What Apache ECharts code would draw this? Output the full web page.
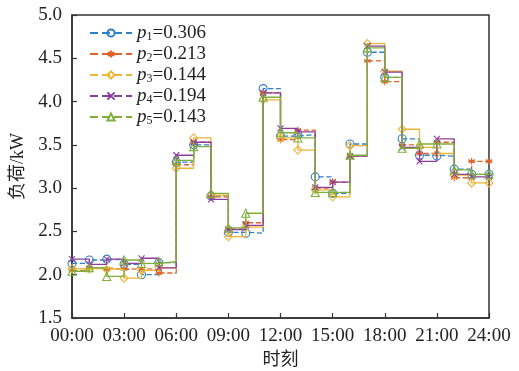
<!DOCTYPE html>
<html>
<head>
<meta charset="utf-8">
<script src="https://cdn.jsdelivr.net/npm/echarts@6/dist/echarts.min.js"></script>
<style>html,body{margin:0;padding:0;background:#fff;}#c{width:519px;height:371px;}</style>
</head>
<body>
<div id="c"></div>
<script>
var hours = [0,1,2,3,4,5,6,7,8,9,10,11,12,13,14,15,16,17,18,19,20,21,22,23,24];
var xTickLabels = ['00:00','03:00','06:00','09:00','12:00','15:00','18:00','21:00','24:00'];
var seriesNames = ['1','2','3','4','5'];
var seriesP = ['0.306','0.213','0.144','0.194','0.143'];
var p1 = [2.13,2.17,2.18,2.12,2.00,2.14,3.30,3.50,2.91,2.49,2.48,4.15,3.60,3.62,3.13,2.94,3.51,4.57,4.28,3.57,3.38,3.37,3.22,3.16,3.16];
var p2 = [2.05,2.08,2.06,2.07,2.06,2.02,3.27,3.53,2.90,2.53,2.60,4.10,3.56,3.67,3.00,3.07,3.37,4.47,4.23,3.50,3.40,3.53,3.12,3.31,3.31];
var p3 = [2.07,2.07,2.06,1.96,2.05,2.08,3.23,3.58,2.92,2.44,2.55,4.02,3.58,3.44,2.98,2.90,3.49,4.67,4.35,3.68,3.47,3.40,3.15,3.06,3.06];
var p4 = [2.18,2.12,2.18,2.13,2.19,2.08,3.38,3.53,2.87,2.52,2.57,4.10,3.69,3.65,3.01,3.07,3.37,4.64,4.34,3.47,3.31,3.57,3.16,3.13,3.13];
var p5 = [2.04,2.08,1.98,2.17,2.13,2.15,3.32,3.48,2.94,2.54,2.71,4.05,3.64,3.58,2.95,2.95,3.38,4.62,4.28,3.46,3.51,3.51,3.21,3.16,3.16];
var allValues = [p1,p2,p3,p4,p5];
var colors = ['#2f80c8','#e0622a','#eeb436','#8a3f9a','#7fb03c'];
var symbols = ['circle','path://M5,0L5,10M0.67,2.5L9.33,7.5M0.67,7.5L9.33,2.5M0,5L10,5','diamond','path://M0,0L10,10M10,0L0,10','triangle'];
var symSizes = [8,7,8,6,8];
var lineTypes = ['dashed','dashed','solid','solid','solid'];

var serif = '"Liberation Serif","Times New Roman","Noto Sans CJK SC",serif';
var chart = echarts.init(document.getElementById('c'), null, {renderer:'canvas'});
var series = allValues.map(function(vals, i){
  return {
    name: 'p' + seriesNames[i],
    type: 'line',
    step: 'end',
    data: hours.map(function(h, k){ return [h, vals[k]]; }),
    symbol: symbols[i],
    symbolSize: symSizes[i],
    showAllSymbol: true,
    lineStyle: {color: colors[i], width: 1.3, type: lineTypes[i]},
    itemStyle: {color: 'rgba(255,255,255,0)', borderColor: colors[i], borderWidth: 1.1},
    emphasis: {disabled: true},
    animation: false,
    z: 2 + i
  };
});
var legendMap = {};
seriesNames.forEach(function(n,i){ legendMap['p'+n] = i; });
chart.setOption({
  backgroundColor: '#fff',
  animation: false,
  grid: {left: 72, right: 30, top: 15, bottom: 53, show: true, borderColor: '#333', borderWidth: 1.5, backgroundColor: 'transparent', containLabel: false, outerBoundsMode: 'none'},
  legend: {
    orient: 'vertical', left: 84, top: 17, itemGap: 0, itemWidth: 42, itemHeight: 9,
    data: seriesNames.map(function(n){ return 'p'+n; }),
    lineStyle: {type: 'dashed'},
    formatter: function(name){
      var i = legendMap[name];
      return '{i|p}{s|' + seriesNames[i] + '}{t|=' + seriesP[i] + '}';
    },
    textStyle: {
      rich: {
        i: {fontFamily: serif, fontStyle: 'italic', fontSize: 19, color: '#222', lineHeight: 20},
        s: {fontFamily: serif, fontSize: 12, color: '#222', verticalAlign: 'bottom', padding: [9,0,0,0], lineHeight: 20},
        t: {fontFamily: serif, fontSize: 19, color: '#222', lineHeight: 20}
      }
    }
  },
  xAxis: {
    type: 'value', min: 0, max: 24, interval: 3,
    name: '时刻', nameLocation: 'middle', nameGap: 32,
    nameTextStyle: {fontFamily: serif, fontSize: 18, color: '#222'},
    axisLine: {show: true, onZero: false, lineStyle: {color: '#333', width: 1.5}},
    axisTick: {show: true, inside: true, length: 5, lineStyle: {color: '#333', width: 1.2}},
    axisLabel: {fontFamily: serif, fontSize: 19, color: '#222', margin: 9,
      formatter: function(v){ return xTickLabels[Math.round(v/3)]; }},
    splitLine: {show: false}
  },
  yAxis: {
    type: 'value', min: 1.5, max: 5.0, interval: 0.5,
    name: '负荷/kW', nameLocation: 'middle', nameGap: 44, nameRotate: 90,
    nameTextStyle: {fontFamily: serif, fontSize: 18, color: '#222'},
    axisLine: {show: true, lineStyle: {color: '#333', width: 1.5}},
    axisTick: {show: true, inside: true, length: 5, lineStyle: {color: '#333', width: 1.2}},
    axisLabel: {fontFamily: serif, fontSize: 19, color: '#222', margin: 10,
      formatter: function(v){ return v.toFixed(1); }},
    splitLine: {show: false}
  },
  series: series
});
</script>
</body>
</html>
